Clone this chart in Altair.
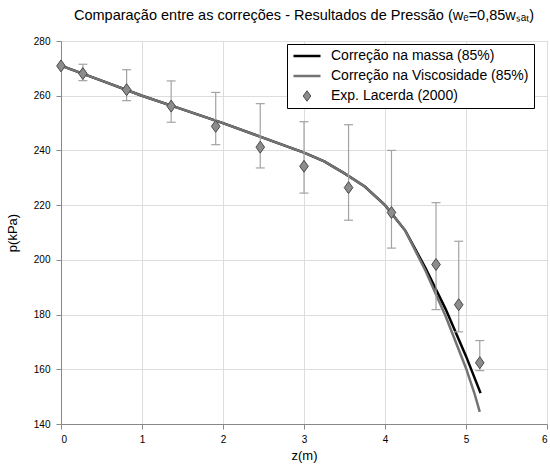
import altair as alt
import pandas as pd

# ---- data ----
series_names = ["Correção na massa (85%)", "Correção na Viscosidade (85%)", "Exp. Lacerda (2000)"]

z_massa = [0.0, 0.5, 1.0, 1.5, 2.0, 2.5, 3.0, 3.25, 3.5, 3.75, 4.0, 4.25, 4.5, 4.75, 5.0, 5.18]
p_massa = [271.0, 265.5, 260.0, 255.0, 250.0, 244.6, 239.2, 236.0, 231.6, 226.8, 220.0, 210.7, 197.0, 181.9, 164.8, 151.3]

z_visc = [0.0, 0.5, 1.0, 1.5, 2.0, 2.5, 3.0, 3.25, 3.5, 3.75, 4.0, 4.25, 4.5, 4.75, 5.0, 5.1, 5.17]
p_visc = [271.0, 265.5, 260.0, 255.0, 250.0, 244.6, 239.2, 236.0, 231.6, 226.8, 220.0, 210.7, 196.0, 179.3, 160.4, 151.6, 144.4]

z_exp = [0.0, 0.27, 0.81, 1.36, 1.91, 2.46, 3.0, 3.55, 4.08, 4.63, 4.91, 5.17]
p_exp = [270.9, 268.1, 262.2, 256.2, 248.8, 241.2, 234.2, 226.4, 217.3, 198.3, 183.6, 162.4]
p_low = [270.9, 265.5, 258.2, 250.3, 242.1, 233.6, 224.4, 214.5, 204.3, 181.8, 173.7, 159.5]
p_high = [270.9, 271.5, 269.5, 265.4, 261.2, 257.1, 250.5, 249.4, 240.0, 220.9, 206.8, 170.5]

x_ticks = [0, 1, 2, 3, 4, 5, 6]
y_ticks = [140, 160, 180, 200, 220, 240, 260, 280]

FONT = "Liberation Sans"
DIAMOND = "M0,-1L0.72,0L0,1L-0.72,0Z"

df_massa = pd.DataFrame({"z": z_massa, "p": p_massa})
df_visc = pd.DataFrame({"z": z_visc, "p": p_visc})
df_exp = pd.DataFrame({"z": z_exp, "p": p_exp, "lo": p_low, "hi": p_high})
df_leg = pd.DataFrame({"serie": series_names})

xs = alt.Scale(domain=[0, 6], nice=False)
ys = alt.Scale(domain=[140, 280], nice=False)

x_axis = alt.Axis(values=x_ticks, format="d", title="z(m)", titleFontWeight="normal",
                  titleFontSize=13, titlePadding=5, labelPadding=5)
y_axis = alt.Axis(values=y_ticks, format="d", title="p(kPa)", titleFontWeight="normal",
                  titleFontSize=13, titlePadding=14, labelPadding=6)

X = alt.X("z:Q", scale=xs, axis=x_axis)
Y = alt.Y("p:Q", scale=ys, axis=y_axis)

line_massa = alt.Chart(df_massa).mark_line(color="black", strokeWidth=2.5).encode(x=X, y=Y)
line_visc = alt.Chart(df_visc).mark_line(color="#737373", strokeWidth=2.5).encode(x=X, y=Y)

bars_base = alt.Chart(df_exp).transform_filter("datum.hi > datum.lo")
bars = bars_base.mark_rule(color="#a3a3a3", strokeWidth=1.2).encode(
    x=X, y=alt.Y("lo:Q", scale=ys, axis=y_axis), y2="hi:Q")
cap_lo = bars_base.mark_tick(orient="horizontal", size=9, thickness=1.2, color="#a3a3a3", opacity=1).encode(
    x=X, y=alt.Y("lo:Q", scale=ys, axis=y_axis))
cap_hi = bars_base.mark_tick(orient="horizontal", size=9, thickness=1.2, color="#a3a3a3", opacity=1).encode(
    x=X, y=alt.Y("hi:Q", scale=ys, axis=y_axis))

points = alt.Chart(df_exp).mark_point(
    shape=DIAMOND, size=144, filled=True, fill="#8c8c8c", stroke="#4a4a4a",
    strokeWidth=1, opacity=1).encode(x=X, y=Y)

leg = alt.Legend(orient="none", legendX=226, legendY=3, title=None,
                 fillColor="white", strokeColor="black",
                 padding=5, rowPadding=6, clipHeight=14, labelOffset=9,
                 labelFont=FONT, labelFontSize=14, labelColor="black",
                 labelLimit=400, symbolOpacity=1, cornerRadius=0)

legend_layer = alt.Chart(df_leg).mark_point(opacity=0).encode(
    x=alt.value(0), y=alt.value(0),
    stroke=alt.Stroke("serie:N", scale=alt.Scale(domain=series_names, range=["black", "#737373", "#4a4a4a"]), legend=leg),
    fill=alt.Fill("serie:N", scale=alt.Scale(domain=series_names, range=["transparent", "transparent", "#8c8c8c"]), legend=leg),
    shape=alt.Shape("serie:N", scale=alt.Scale(domain=series_names, range=["stroke", "stroke", DIAMOND]), legend=leg),
    size=alt.Size("serie:N", scale=alt.Scale(type="ordinal", domain=series_names, range=[729, 729, 110]), legend=leg),
    strokeWidth=alt.StrokeWidth("serie:N", scale=alt.Scale(type="ordinal", domain=series_names, range=[2.5, 2.5, 1]), legend=leg),
)

chart = alt.layer(line_massa, line_visc, bars, cap_lo, cap_hi, points, legend_layer).properties(
    width=486, height=383,
    title=alt.TitleParams("Comparação entre as correções - Resultados de Pressão (wₑ=0,85wₛₐₜ)",
                          font=FONT, fontSize=14.5, fontWeight="normal", color="black",
                          anchor="middle", offset=12),
    autosize=alt.AutoSizeParams(type="none"),
    padding={"left": 61, "top": 41, "right": 3, "bottom": 41},
).configure_view(stroke="black", strokeWidth=1, fill="white").configure_axis(
    labelFont=FONT, labelFontSize=12, labelColor="black",
    titleFont=FONT, titleColor="black",
    domain=False, ticks=False, grid=True, gridColor="#1a1a1a", gridDash=[4, 3],
    gridWidth=1, gridOpacity=1,
).configure(background="white")

chart.save("out.html", embed_options={"renderer": "svg", "actions": False})
